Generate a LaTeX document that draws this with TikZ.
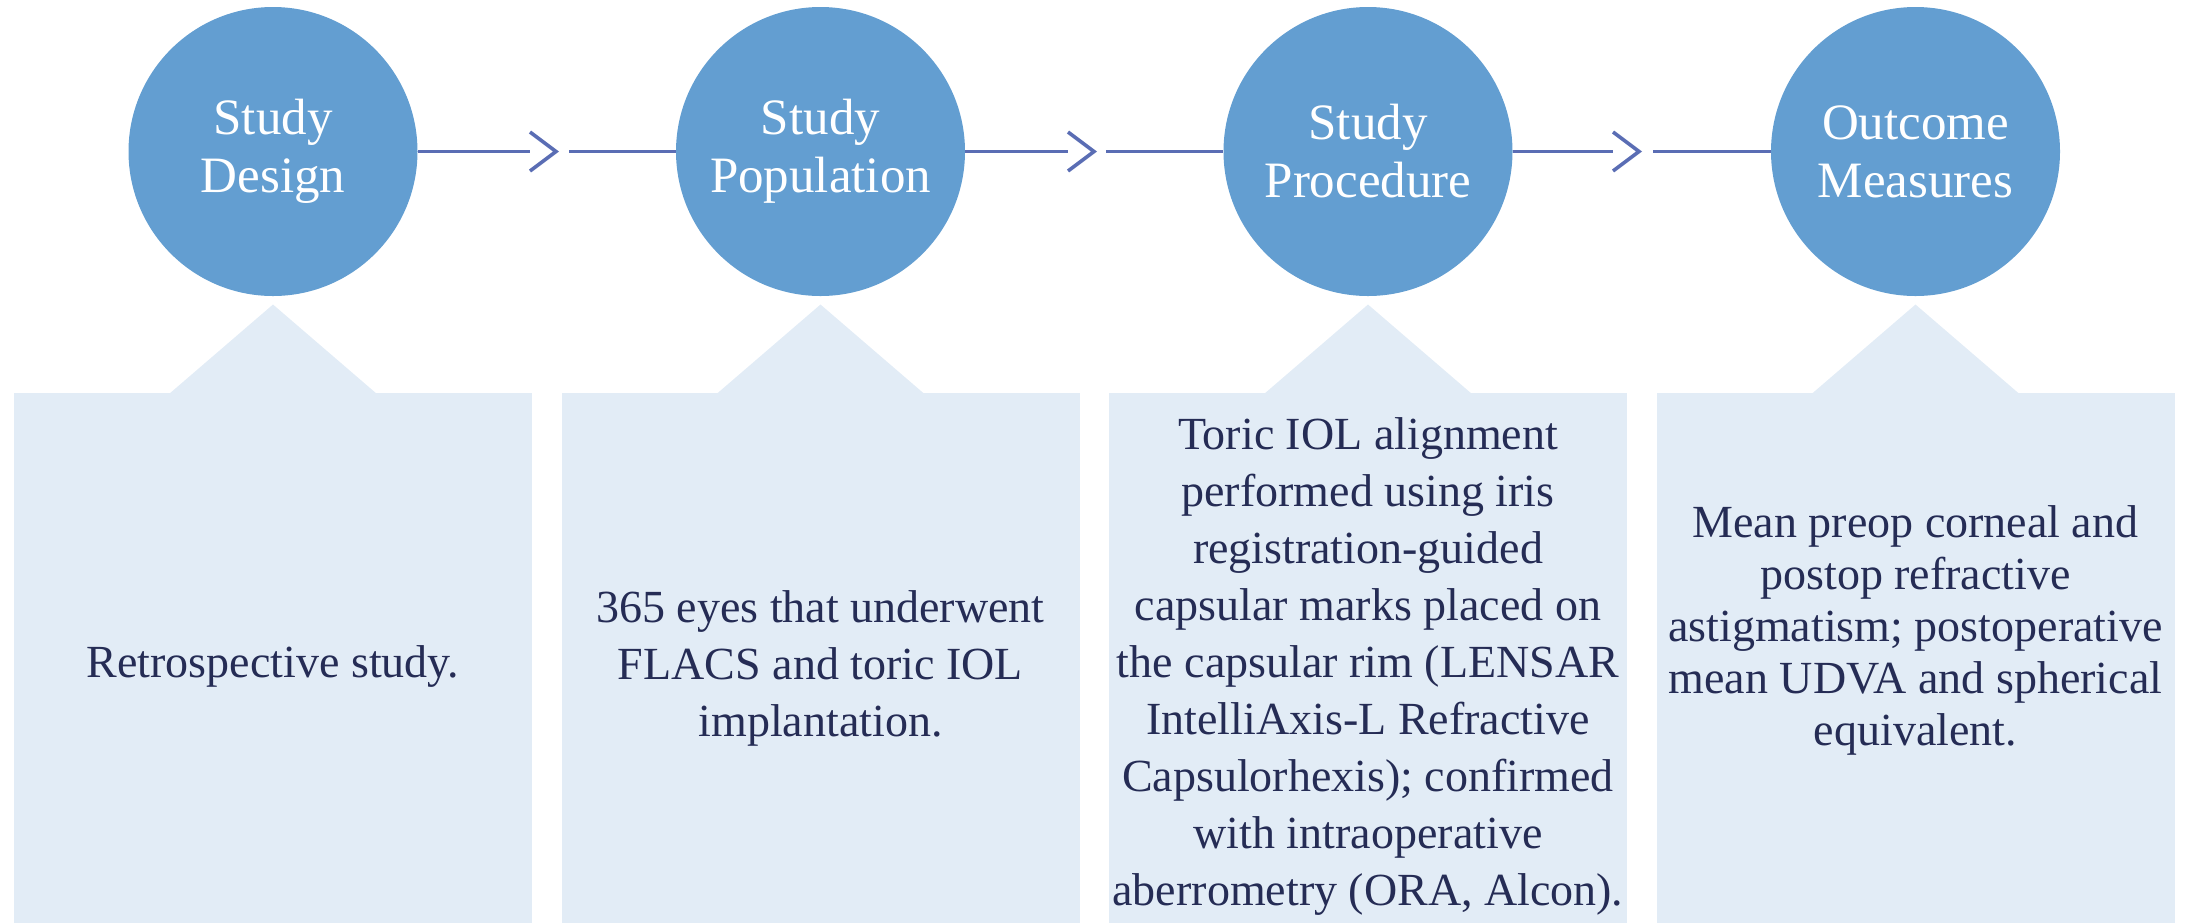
\documentclass[tikz,border=0pt]{standalone}
\usepackage{fontspec}
\setmainfont{Liberation Serif}
\usepackage{xcolor}
\usetikzlibrary{positioning}
\definecolor{stageblue}{HTML}{639ED1}
\definecolor{panelblue}{HTML}{E2ECF6}
\definecolor{linkblue}{HTML}{5A6DB4}
\definecolor{inkblue}{HTML}{252C55}

\begin{document}
\begin{tikzpicture}[
    x=0.5pt, y=-0.5pt,
    stage/.style={circle, fill=stageblue, minimum size=144.5pt, inner sep=0,
        text=white, align=center, font=\fontsize{25.5}{29}\selectfont},
    panel/.style={rectangle, fill=panelblue, minimum width=259pt, minimum height=265pt, inner sep=0},
    pointer/.style={fill=panelblue},
    detail/.style={text=inkblue, align=center, inner sep=0, font=\fontsize{23}{28.5}\selectfont},
    link/.style={draw=linkblue, line width=1.7pt},
    chevron/.style={draw=linkblue, line width=1.8pt, line join=miter}]
\useasboundingbox (0,0) rectangle (2185,923);

% stages
\node[stage] (design)     at (273,151.5)    {Study\\Design};
\node[stage] (population) at (820.5,151.5)  {Study\\Population};
\node[stage] (procedure)  at (1368,151.5)   {Study\\Procedure};
\node[stage] (outcome)    at (1915.5,151.5) {Outcome\\Measures};

% panels
\node[panel] (designP)     at (273,658)    {};
\node[panel] (populationP) at (820.5,658)  {};
\node[panel] (procedureP)  at (1368,658)   {};
\node[panel] (outcomeP)    at (1915.5,658) {};
\fill[pointer] (169,394) -- (273,304.5) -- (377,394) -- cycle;
\fill[pointer] (716.5,394) -- (820.5,304.5) -- (924.5,394) -- cycle;
\fill[pointer] (1264,394) -- (1368,304.5) -- (1472,394) -- cycle;
\fill[pointer] (1811.5,394) -- (1915.5,304.5) -- (2019.5,394) -- cycle;

\node[detail] (designT)     at (273,666)    {Retrospective study.};
\node[detail] (populationT) at (820.5,668)  {365 eyes that underwent\\FLACS and toric IOL\\implantation.};
\node[detail] (procedureT)  at (1368,666)   {Toric IOL alignment\\performed using iris\\registration-guided\\capsular marks placed on\\the capsular rim (LENSAR\\IntelliAxis-L Refractive\\Capsulorhexis); confirmed\\with intraoperative\\aberrometry (ORA, Alcon).};
\node[detail, font=\fontsize{23}{26}\selectfont] (outcomeT) at (1915.5,630) {Mean preop corneal and\\postop refractive\\astigmatism; postoperative\\mean UDVA and spherical\\equivalent.};

% connectors
\coordinate (tipA) at (556,151.5);
\coordinate (tipB) at (1094,151.5);
\coordinate (tipC) at (1639,151.5);
\coordinate (endA) at (530,151.5);   \coordinate (startA) at (569,151.5);
\coordinate (endB) at (1068,151.5);  \coordinate (startB) at (1106,151.5);
\coordinate (endC) at (1613,151.5);  \coordinate (startC) at (1653,151.5);

\draw[link] (design) -- (endA);
\draw[chevron] ([shift={(-26,-19.5)}]tipA) -- (tipA) -- ([shift={(-26,19.5)}]tipA);
\draw[link] (startA) -- (population);
\draw[link] (population) -- (endB);
\draw[chevron] ([shift={(-26,-19.5)}]tipB) -- (tipB) -- ([shift={(-26,19.5)}]tipB);
\draw[link] (startB) -- (procedure);
\draw[link] (procedure) -- (endC);
\draw[chevron] ([shift={(-26,-19.5)}]tipC) -- (tipC) -- ([shift={(-26,19.5)}]tipC);
\draw[link] (startC) -- (outcome);

\end{tikzpicture}
\end{document}
